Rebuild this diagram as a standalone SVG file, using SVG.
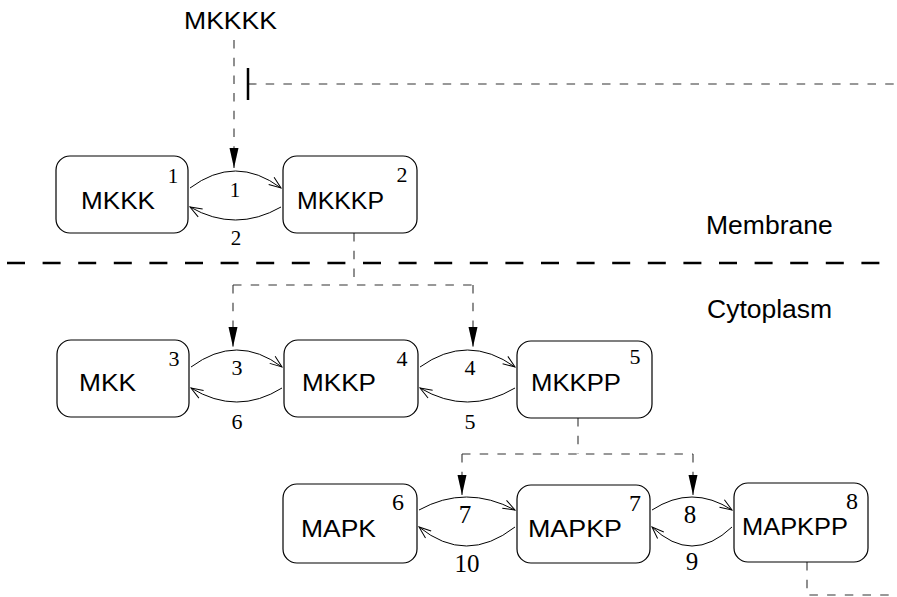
<svg xmlns="http://www.w3.org/2000/svg" width="897" height="597" viewBox="0 0 897 597">
<defs>
<marker id="open" markerUnits="userSpaceOnUse" markerWidth="14" markerHeight="12" refX="12" refY="5" orient="auto" overflow="visible">
<path d="M0,0.5 L12,5 L0,9.5" fill="none" stroke="#000" stroke-width="1"/>
</marker>
<marker id="solid" markerUnits="userSpaceOnUse" markerWidth="22" markerHeight="10" refX="20" refY="4.5" orient="auto" overflow="visible">
<path d="M0,0 L20,4.5 L0,9 z" fill="#000"/>
</marker>
</defs>
<style>
.box{fill:#fff;stroke:#000;stroke-width:1.2}
.lbl{font-family:"Liberation Sans",Arial,sans-serif;font-size:24px;fill:#000}
.reg{font-family:"Liberation Sans",Arial,sans-serif;font-size:26.5px;fill:#000}
.num{font-family:"Liberation Serif","Times New Roman",serif;fill:#000;text-anchor:middle}
.arc{fill:none;stroke:#000;stroke-width:1}
.dash{fill:none;stroke:#333;stroke-width:1.1;stroke-dasharray:8.5 9.2}
.mem{fill:none;stroke:#000;stroke-width:2.7;stroke-dasharray:18 17.6}
</style>
<g id="membrane-line"><line class="mem" x1="7" y1="263" x2="880" y2="263"/></g>
<text class="reg" x="706" y="234">Membrane</text>
<text class="reg" x="707" y="318">Cytoplasm</text>

<g id="connectors">
<line class="dash" x1="234" y1="40" x2="234" y2="168" marker-end="url(#solid)"/>
<line class="dash" x1="248" y1="84" x2="897" y2="84"/>
<line x1="248" y1="68" x2="248" y2="100" stroke="#000" stroke-width="2.5"/>
<path class="dash" d="M354,233 V285"/>
<path class="dash" d="M233,285 H473"/>
<line class="dash" x1="233" y1="285" x2="233" y2="347" marker-end="url(#solid)"/>
<line class="dash" x1="473" y1="285" x2="473" y2="347" marker-end="url(#solid)"/>
<path class="dash" d="M578,418 V454"/>
<path class="dash" d="M462,454 H693"/>
<line class="dash" x1="462" y1="454" x2="462" y2="495" marker-end="url(#solid)"/>
<line class="dash" x1="693" y1="454" x2="693" y2="495" marker-end="url(#solid)"/>
<path class="dash" d="M807,562 V595 H897"/>

<path class="arc" d="M190,188 Q235.5,154 281,188" marker-end="url(#open)"/>
<path class="arc" d="M281,207 Q235.5,233 190,207" marker-end="url(#open)"/>
<path class="arc" d="M191,367 Q237,333 282,367" marker-end="url(#open)"/>
<path class="arc" d="M282,388 Q237,416 191,388" marker-end="url(#open)"/>
<path class="arc" d="M420,367 Q467.5,333 515,367" marker-end="url(#open)"/>
<path class="arc" d="M515,388 Q467.5,416 420,388" marker-end="url(#open)"/>
<path class="arc" d="M419,510 Q466,484 515,510" marker-end="url(#open)"/>
<path class="arc" d="M515,527 Q466,565 419,527" marker-end="url(#open)"/>
<path class="arc" d="M652,510 Q692,484 732,510" marker-end="url(#open)"/>
<path class="arc" d="M732,527 Q692,565 652,527" marker-end="url(#open)"/>

<text class="num" x="235" y="197" font-size="21">1</text>
<text class="num" x="236" y="245" font-size="21">2</text>
<text class="num" x="237" y="375" font-size="22">3</text>
<text class="num" x="237" y="429" font-size="22">6</text>
<text class="num" x="470" y="375" font-size="22">4</text>
<text class="num" x="470" y="429" font-size="22">5</text>
<text class="num" x="465" y="523" font-size="25">7</text>
<text class="num" x="467" y="572" font-size="25">10</text>
<text class="num" x="690" y="523" font-size="25">8</text>
<text class="num" x="692" y="570" font-size="25">9</text>
</g>

<text class="lbl" x="184" y="29" textLength="93" lengthAdjust="spacingAndGlyphs">MKKKK</text>

<g id="n1"><rect class="box" x="56" y="156" width="132" height="77" rx="14"/>
<text class="lbl" x="81" y="209" textLength="74" lengthAdjust="spacingAndGlyphs">MKKK</text>
<text class="num" x="173" y="183" font-size="21">1</text></g>
<g id="n2"><rect class="box" x="283" y="156" width="134" height="77" rx="14"/>
<text class="lbl" x="297" y="209" textLength="87" lengthAdjust="spacingAndGlyphs">MKKKP</text>
<text class="num" x="402" y="182" font-size="22">2</text></g>
<g id="n3"><rect class="box" x="57" y="340" width="132" height="77" rx="14"/>
<text class="lbl" x="79" y="391" textLength="57" lengthAdjust="spacingAndGlyphs">MKK</text>
<text class="num" x="174" y="366" font-size="22">3</text></g>
<g id="n4"><rect class="box" x="284" y="340" width="134" height="77" rx="14"/>
<text class="lbl" x="302" y="391" textLength="74" lengthAdjust="spacingAndGlyphs">MKKP</text>
<text class="num" x="402" y="366" font-size="22">4</text></g>
<g id="n5"><rect class="box" x="517" y="341" width="135" height="77" rx="14"/>
<text class="lbl" x="531" y="391" textLength="90" lengthAdjust="spacingAndGlyphs">MKKPP</text>
<text class="num" x="635" y="364" font-size="22">5</text></g>
<g id="n6"><rect class="box" x="283" y="484" width="134" height="79" rx="14"/>
<text class="lbl" x="301" y="537" textLength="75" lengthAdjust="spacingAndGlyphs">MAPK</text>
<text class="num" x="398" y="510" font-size="24">6</text></g>
<g id="n7"><rect class="box" x="517" y="485" width="133" height="78" rx="14"/>
<text class="lbl" x="528" y="537" textLength="94" lengthAdjust="spacingAndGlyphs">MAPKP</text>
<text class="num" x="635" y="511" font-size="24">7</text></g>
<g id="n8"><rect class="box" x="734" y="483" width="134" height="79" rx="14"/>
<text class="lbl" x="742" y="535" textLength="106" lengthAdjust="spacingAndGlyphs">MAPKPP</text>
<text class="num" x="852" y="509" font-size="24">8</text></g>
</svg>
